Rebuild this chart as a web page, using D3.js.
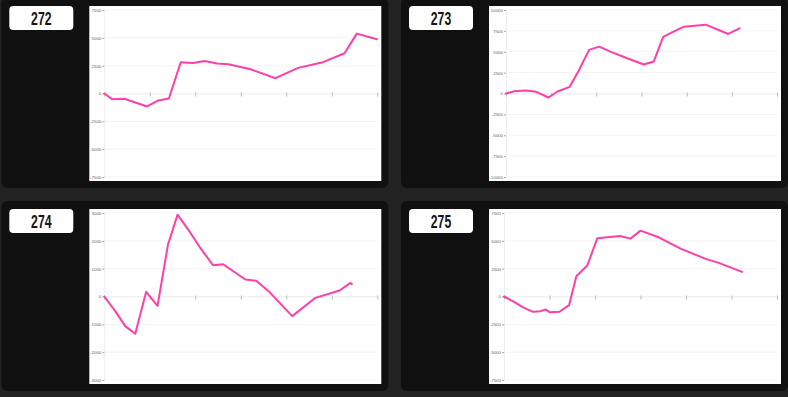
<!DOCTYPE html>
<html>
<head>
<meta charset="utf-8">
<script src="https://cdn.jsdelivr.net/npm/d3@7"></script>
<style>
  html, body { margin: 0; padding: 0; background: #222222; }
  svg { display: block; }
</style>
</head>
<body>
<svg id="chart" width="788" height="397"></svg>
<script>
// ---- data ----
const panelTitles = ["272", "273", "274", "275"];

const x272 = [0, 1.7, 4.4, 9.4, 11.9, 14.2, 16.8, 19.5, 22, 24.8, 27.3, 32.1, 37.6, 42.6, 47.8, 52.8, 55.5, 59.9];
const y272 = [0, -508, -478, -1165, -627, -448, 2808, 2749, 2928, 2689, 2629, 2181, 1374, 2300, 2779, 3615, 5378, 4870];

const x273 = [0, 1.8, 4.4, 6.7, 9.4, 11.4, 14.1, 16, 18.4, 20.6, 23.1, 26.8, 30.5, 32.7, 34.8, 37.1, 39.4, 44.2, 49.2, 51.7];
const y273 = [0, 279, 359, 199, -478, 239, 797, 2629, 5219, 5618, 5020, 4223, 3466, 3825, 6773, 7410, 8008, 8247, 7131, 7809];

const x274 = [0, 2.4, 4.6, 6.8, 9.2, 11.7, 14, 16.1, 18.7, 21.1, 23.9, 26.1, 31, 33.4, 36.1, 41.3, 46.4, 51.7, 54.1, 54.4];
const y274 = [0, -526, -1064, -1339, 167, -335, 1864, 2940, 2342, 1745, 1123, 1159, 610, 562, 191, -705, -48, 215, 490, 442];

const x275 = [0, 2.2, 4.4, 6.4, 8.0, 9.2, 10.0, 12.2, 14.3, 15.9, 18.3, 20.5, 25.5, 27.8, 30, 34, 38.8, 44.3, 47.2, 52.3];
const y275 = [0, -478, -1016, -1374, -1315, -1165, -1404, -1374, -777, 1823, 2779, 5229, 5438, 5199, 5916, 5319, 4303, 3377, 3018, 2211];

const xDomain = [0, 60];
const xTicks = [0, 10, 20, 30, 40, 50, 60];
const yDomains = [[-7500, 7500], [-10000, 10000], [-3000, 3000], [-7500, 7500]];
const yTickSteps = [2500, 2500, 1000, 2500];

const seriesX = [x272, x273, x274, x275];
const seriesY = [y272, y273, y274, y275];

// ---- layout ----
const svg = d3.select("#chart");
svg.append("rect").attr("width", 788).attr("height", 397).attr("fill", "#222222");

const cardW = 387, cardH = 190;
const cardX = [1.3, 401], cardY = [-2, 201];
const chartX = 88, chartY = 8, chartW = 292, chartH = 175;
const lineColor = "#ff3fa8";

panelTitles.forEach((title, i) => {
  const cx = cardX[i % 2], cy = cardY[Math.floor(i / 2)];
  const card = svg.append("g").attr("transform", `translate(${cx},${cy})`);
  card.append("rect").attr("width", cardW).attr("height", cardH).attr("rx", 6).attr("fill", "#101010");

  // title badge
  card.append("rect").attr("x", 8).attr("y", 8).attr("width", 64).attr("height", 24)
    .attr("rx", 4).attr("fill", "#ffffff");
  card.append("text")
    .attr("transform", "translate(40,26.5) scale(0.7,1)")
    .attr("text-anchor", "middle")
    .attr("font-family", "'Liberation Sans', Arial, sans-serif")
    .attr("font-weight", "bold").attr("font-size", 17.5).attr("fill", "#161616")
    .text(title);

  // chart area
  const chart = card.append("g").attr("transform", `translate(${chartX},${chartY})`);
  chart.append("rect").attr("width", chartW).attr("height", chartH).attr("fill", "#ffffff");

  const [y0, y1] = yDomains[i];
  const ticks = d3.range(y0, y1 + 1, yTickSteps[i]);

  // measure label width for left margin
  const meas = chart.append("g").attr("font-family", "'Liberation Sans', Arial, sans-serif").attr("font-size", 4.4);
  let maxW = 0;
  ticks.forEach(t => {
    const tx = meas.append("text").text(String(t));
    maxW = Math.max(maxW, tx.node().getComputedTextLength());
  });
  meas.remove();

  const mLeft = Math.round(maxW + 3.7), mTop = 4, mRight = 4, mBottom = 4;
  const x = d3.scaleLinear().domain(xDomain).range([mLeft, chartW - mRight]);
  const y = d3.scaleLinear().domain([y0, y1]).range([chartH - mBottom, mTop]);

  // grid lines
  chart.append("g").selectAll("line").data(ticks).join("line")
    .attr("x1", mLeft).attr("x2", chartW - mRight)
    .attr("y1", d => y(d)).attr("y2", d => y(d))
    .attr("stroke", "#f3f3f3").attr("stroke-width", 1);

  // y axis
  const yAxis = chart.append("g").attr("transform", `translate(${mLeft},0)`)
    .call(d3.axisLeft(y).tickValues(ticks).tickSize(2).tickPadding(1).tickFormat(d => String(d)));
  yAxis.select(".domain").attr("stroke", "#eeeeee");
  yAxis.selectAll(".tick line").attr("stroke", "#aaaaaa");
  yAxis.selectAll(".tick text").attr("fill", "#666666")
    .attr("font-family", "'Liberation Sans', Arial, sans-serif").attr("font-size", 4.4);

  // x axis at zero
  const xAxis = chart.append("g").attr("transform", `translate(0,${y(0)})`)
    .call(d3.axisBottom(x).tickValues(xTicks).tickSize(3).tickFormat(""));
  xAxis.select(".domain").attr("stroke", "#f0f0f0");
  xAxis.selectAll(".tick line").attr("stroke", "#bbbbbb").attr("y1", -1);

  // line
  const pts = seriesX[i].map((v, k) => [v, seriesY[i][k]]);
  chart.append("path").datum(pts)
    .attr("d", d3.line().x(d => x(d[0])).y(d => y(d[1])))
    .attr("fill", "none").attr("stroke", lineColor).attr("stroke-width", 2)
    .attr("stroke-linejoin", "round").attr("stroke-linecap", "round");
});
</script>
</body>
</html>
